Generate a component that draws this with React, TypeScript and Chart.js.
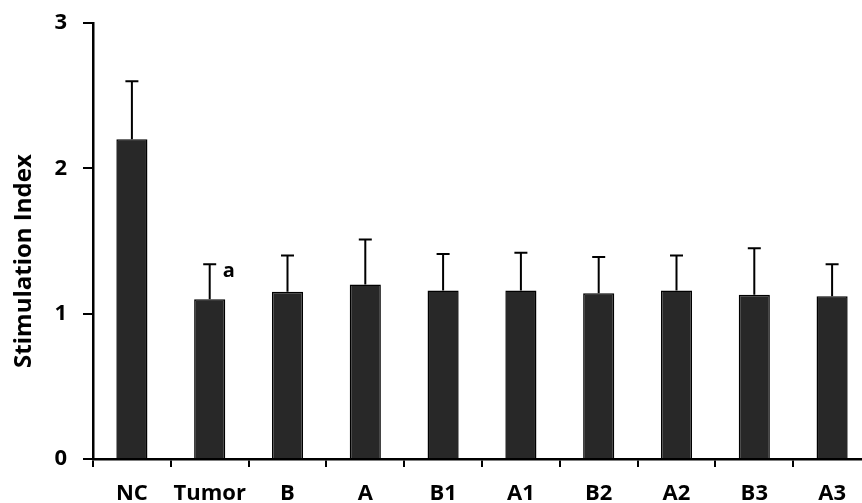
import React, { useEffect, useRef } from "react";
import { Chart, registerables } from "chart.js";

Chart.register(...registerables);

const categories = ["NC", "Tumor", "B", "A", "B1", "A1", "B2", "A2", "B3", "A3"];
const means = [2.2, 1.1, 1.15, 1.2, 1.16, 1.16, 1.14, 1.16, 1.13, 1.12];
const errors = [0.4, 0.24, 0.25, 0.31, 0.25, 0.26, 0.25, 0.24, 0.32, 0.22];
const annotations = ["", "a", "", "", "", "", "", "", "", ""];
const yTicks = [0, 1, 2, 3];
const yTitle = "Stimulation Index";

const FONT = "'Open Sans', Lato, sans-serif";

const errorBarPlugin = {
  id: "errorBars",
  afterDatasetsDraw(chart: any) {
    const ctx = chart.ctx;
    const meta = chart.getDatasetMeta(0);
    const yScale = chart.scales.y;
    ctx.save();
    ctx.strokeStyle = "#000";
    ctx.lineWidth = 2;
    ctx.lineCap = "butt";
    meta.data.forEach((el: any, i: number) => {
      const x = el.x;
      const yBar = el.y;
      const yTop = yScale.getPixelForValue(means[i] + errors[i]);
      ctx.beginPath();
      ctx.moveTo(x, yBar);
      ctx.lineTo(x, yTop);
      ctx.moveTo(x - 6.5, yTop);
      ctx.lineTo(x + 6.5, yTop);
      ctx.stroke();
      if (annotations[i]) {
        ctx.fillStyle = "#000";
        ctx.font = `bold 20px ${FONT}`;
        ctx.textAlign = "left";
        ctx.textBaseline = "middle";
        ctx.fillText(annotations[i], x + 13, yTop + 7);
      }
    });
    ctx.restore();
  },
  afterDraw(chart: any) {
    const ctx = chart.ctx;
    const area = chart.chartArea;
    ctx.save();
    ctx.fillStyle = "#000";
    ctx.font = `bold 24px ${FONT}`;
    ctx.textAlign = "center";
    ctx.textBaseline = "middle";
    ctx.translate(24, area.top + (area.bottom - area.top) * 0.546);
    ctx.rotate(-Math.PI / 2);
    ctx.fillText(yTitle, 0, 0);
    ctx.restore();
  },
};

export default function App() {
  const ref = useRef<HTMLCanvasElement>(null);
  useEffect(() => {
    if (!ref.current) return;
    const chart = new Chart(ref.current, {
      type: "bar",
      data: {
        labels: categories,
        datasets: [
          {
            data: means,
            backgroundColor: "#282828",
            borderColor: "#000",
            borderWidth: 1.5,
            barPercentage: 0.4,
            categoryPercentage: 1,
          },
        ],
      },
      options: {
        animation: false,
        responsive: false,
        layout: { padding: { top: 23, right: 9, bottom: 0, left: 0 } },
        plugins: {
          legend: { display: false },
          tooltip: { enabled: false },
        },
        scales: {
          x: {
            afterFit: (s: any) => {
              s.height = 44;
              s.paddingLeft = 0;
              s.paddingRight = 0;
            },
            grid: {
              display: true,
              drawOnChartArea: false,
              drawTicks: true,
              tickLength: 8,
              color: "#000",
              lineWidth: 2,
              offset: true,
            },
            border: { display: true, color: "#000", width: 2.5 },
            ticks: {
              color: "#000",
              font: { family: FONT, size: 22, weight: "bold" },
              padding: 14,
              maxRotation: 0,
            },
          },
          y: {
            min: 0,
            max: 3,
            afterFit: (s: any) => {
              s.width = 93;
              s.paddingTop = 0;
              s.paddingBottom = 0;
            },
            afterBuildTicks: (s: any) => {
              s.ticks = yTicks.map((v) => ({ value: v }));
            },
            grid: {
              display: true,
              drawOnChartArea: false,
              drawTicks: true,
              tickLength: 10,
              color: "#000",
              lineWidth: 2,
            },
            border: { display: true, color: "#000", width: 2.5 },
            ticks: {
              color: "#000",
              font: { family: FONT, size: 22, weight: "bold" },
              padding: 16,
            },
          },
        },
      },
      plugins: [errorBarPlugin],
    });
    return () => chart.destroy();
  }, []);
  return (
    <div
      style={{
        position: "absolute",
        left: 0,
        top: 0,
        width: 862,
        height: 503,
        overflow: "hidden",
        background: "#fff",
      }}
    >
      <canvas ref={ref} width={880} height={503} style={{ display: "block" }} />
    </div>
  );
}
